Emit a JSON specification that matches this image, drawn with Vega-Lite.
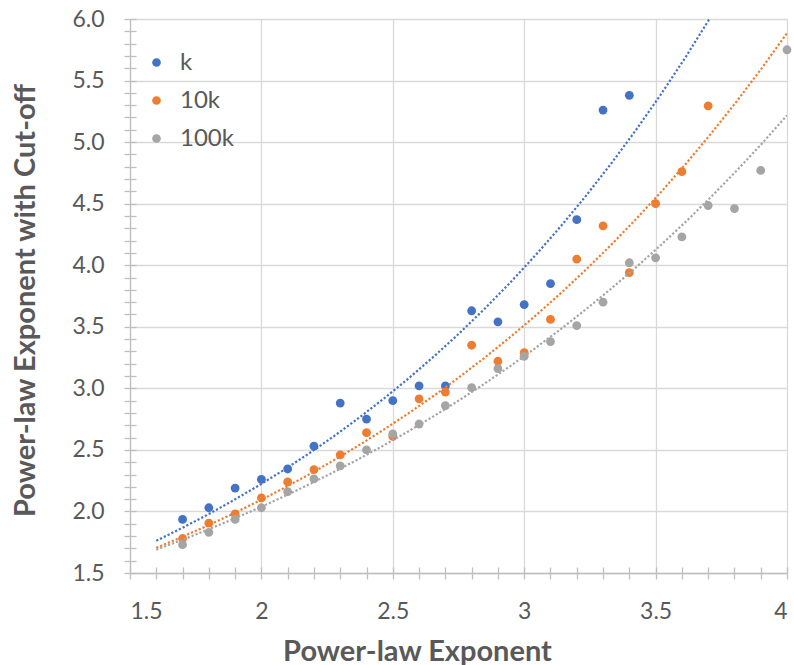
{
  "$schema": "https://vega.github.io/schema/vega-lite/v6.json",
  "width": 657,
  "height": 554,
  "autosize": {"type": "none"},
  "padding": {"left": 130, "top": 19, "right": 7, "bottom": 92},
  "background": "white",
  "config": {"view": {"stroke": null}, "font": "Lato"},
  "data": {
    "values": [
      {"series": "k", "x": 1.7, "y": 1.935},
      {"series": "k", "x": 1.8, "y": 2.03},
      {"series": "k", "x": 1.9, "y": 2.19},
      {"series": "k", "x": 2.0, "y": 2.26},
      {"series": "k", "x": 2.1, "y": 2.345},
      {"series": "k", "x": 2.2, "y": 2.53},
      {"series": "k", "x": 2.3, "y": 2.88},
      {"series": "k", "x": 2.4, "y": 2.75},
      {"series": "k", "x": 2.5, "y": 2.9},
      {"series": "k", "x": 2.6, "y": 3.02},
      {"series": "k", "x": 2.7, "y": 3.02},
      {"series": "k", "x": 2.8, "y": 3.63},
      {"series": "k", "x": 2.9, "y": 3.54},
      {"series": "k", "x": 3.0, "y": 3.68},
      {"series": "k", "x": 3.1, "y": 3.85},
      {"series": "k", "x": 3.2, "y": 4.37},
      {"series": "k", "x": 3.3, "y": 5.26},
      {"series": "k", "x": 3.4, "y": 5.38},
      {"series": "10k", "x": 1.7, "y": 1.78},
      {"series": "10k", "x": 1.8, "y": 1.905},
      {"series": "10k", "x": 1.9, "y": 1.98},
      {"series": "10k", "x": 2.0, "y": 2.11},
      {"series": "10k", "x": 2.1, "y": 2.24},
      {"series": "10k", "x": 2.2, "y": 2.34},
      {"series": "10k", "x": 2.3, "y": 2.46},
      {"series": "10k", "x": 2.4, "y": 2.64},
      {"series": "10k", "x": 2.5, "y": 2.61},
      {"series": "10k", "x": 2.6, "y": 2.915},
      {"series": "10k", "x": 2.7, "y": 2.97},
      {"series": "10k", "x": 2.8, "y": 3.35},
      {"series": "10k", "x": 2.9, "y": 3.22},
      {"series": "10k", "x": 3.0, "y": 3.29},
      {"series": "10k", "x": 3.1, "y": 3.56},
      {"series": "10k", "x": 3.2, "y": 4.05},
      {"series": "10k", "x": 3.3, "y": 4.32},
      {"series": "10k", "x": 3.4, "y": 3.94},
      {"series": "10k", "x": 3.5, "y": 4.5},
      {"series": "10k", "x": 3.6, "y": 4.76},
      {"series": "10k", "x": 3.7, "y": 5.295},
      {"series": "100k", "x": 1.7, "y": 1.73},
      {"series": "100k", "x": 1.8, "y": 1.83},
      {"series": "100k", "x": 1.9, "y": 1.935},
      {"series": "100k", "x": 2.0, "y": 2.03},
      {"series": "100k", "x": 2.1, "y": 2.16},
      {"series": "100k", "x": 2.2, "y": 2.265},
      {"series": "100k", "x": 2.3, "y": 2.37},
      {"series": "100k", "x": 2.4, "y": 2.5},
      {"series": "100k", "x": 2.5, "y": 2.63},
      {"series": "100k", "x": 2.6, "y": 2.71},
      {"series": "100k", "x": 2.7, "y": 2.86},
      {"series": "100k", "x": 2.8, "y": 3.005},
      {"series": "100k", "x": 2.9, "y": 3.16},
      {"series": "100k", "x": 3.0, "y": 3.26},
      {"series": "100k", "x": 3.1, "y": 3.38},
      {"series": "100k", "x": 3.2, "y": 3.51},
      {"series": "100k", "x": 3.3, "y": 3.7},
      {"series": "100k", "x": 3.4, "y": 4.02},
      {"series": "100k", "x": 3.5, "y": 4.06},
      {"series": "100k", "x": 3.6, "y": 4.23},
      {"series": "100k", "x": 3.7, "y": 4.485},
      {"series": "100k", "x": 3.8, "y": 4.46},
      {"series": "100k", "x": 3.9, "y": 4.77},
      {"series": "100k", "x": 4.0, "y": 5.75}
    ]
  },
  "layer": [
    {
      "mark": {"type": "circle", "size": 78, "opacity": 1},
      "encoding": {
        "x": {
          "field": "x", "type": "quantitative",
          "scale": {"domain": [1.5, 4], "nice": false, "zero": false},
          "axis": {
            "orient": "bottom",
            "values": [1.5, 2, 2.5, 3, 3.5, 4],
            "format": "~g",
            "grid": true, "gridColor": "#d9d9d9", "gridWidth": 1.3,
            "domain": true, "domainColor": "#bfbfbf", "domainWidth": 1.3,
            "ticks": false,
            "labelFontSize": 23, "labelColor": "#595959", "labelPadding": 27, "labelFont": "Lato",
            "title": "Power-law Exponent",
            "titleFont": "Lato", "titleFontSize": 29, "titleFontWeight": "bold", "titleColor": "#595959",
            "titleX": 287, "titleY": 87, "titleBaseline": "alphabetic", "titleAlign": "center"
          }
        },
        "y": {
          "field": "y", "type": "quantitative",
          "scale": {"domain": [1.5, 6], "nice": false, "zero": false},
          "axis": {
            "orient": "left",
            "values": [1.5, 2, 2.5, 3, 3.5, 4, 4.5, 5, 5.5, 6],
            "format": ".1f",
            "grid": true, "gridColor": "#d9d9d9", "gridWidth": 1.3,
            "domain": true, "domainColor": "#bfbfbf", "domainWidth": 1.3,
            "ticks": false,
            "labelFontSize": 23, "labelColor": "#595959", "labelPadding": 26, "labelFont": "Lato",
            "title": "Power-law Exponent with Cut-off",
            "titleFont": "Lato", "titleFontSize": 29, "titleFontWeight": "bold", "titleColor": "#595959",
            "titleX": -96, "titleY": 281, "titleAngle": -90, "titleBaseline": "alphabetic", "titleAlign": "center"
          }
        },
        "color": {
          "field": "series", "type": "nominal",
          "scale": {"domain": ["k", "10k", "100k"], "range": ["#4472C4", "#ED7D31", "#A5A5A5"]},
          "legend": {
            "title": null, "orient": "none", "legendX": 14.5, "legendY": 31.5, "padding": 0,
            "symbolType": "circle", "symbolSize": 75, "symbolStrokeWidth": 0,
            "labelFontSize": 24, "labelColor": "#595959", "labelFont": "Lato",
            "labelOffset": 11.5, "rowPadding": 14
          }
        }
      }
    },
    {
      "transform": [
        {"regression": "y", "on": "x", "groupby": ["series"], "method": "exp", "extent": [1.6, 4.0]}
      ],
      "mark": {"type": "line", "clip": true, "strokeWidth": 2.2, "strokeDash": [2.2, 2]},
      "encoding": {
        "x": {
          "field": "x", "type": "quantitative",
          "scale": {"domain": [1.5, 4], "nice": false, "zero": false},
          "axis": {
            "orient": "bottom",
            "values": [1.5, 1.6, 1.7, 1.8, 1.9, 2.0, 2.1, 2.2, 2.3, 2.4, 2.5, 2.6, 2.7, 2.8, 2.9, 3.0, 3.1, 3.2, 3.3, 3.4, 3.5, 3.6, 3.7, 3.8, 3.9, 4.0],
            "grid": false, "domain": false, "labels": false,
            "ticks": true, "tickColor": "#bfbfbf", "tickWidth": 1.3, "tickSize": 12, "offset": -6,
            "title": null
          }
        },
        "y": {
          "field": "y", "type": "quantitative",
          "scale": {"domain": [1.5, 6], "nice": false, "zero": false},
          "axis": {
            "orient": "left",
            "values": [1.5, 1.6, 1.7, 1.8, 1.9, 2.0, 2.1, 2.2, 2.3, 2.4, 2.5, 2.6, 2.7, 2.8, 2.9, 3.0, 3.1, 3.2, 3.3, 3.4, 3.5, 3.6, 3.7, 3.8, 3.9, 4.0, 4.1, 4.2, 4.3, 4.4, 4.5, 4.6, 4.7, 4.8, 4.9, 5.0, 5.1, 5.2, 5.3, 5.4, 5.5, 5.6, 5.7, 5.8, 5.9, 6.0],
            "grid": false, "domain": false, "labels": false,
            "ticks": true, "tickColor": "#bfbfbf", "tickWidth": 1.3, "tickSize": 12, "offset": -6,
            "title": null
          }
        },
        "stroke": {
          "field": "series", "type": "nominal",
          "scale": {"domain": ["k", "10k", "100k"], "range": ["#4472C4", "#ED7D31", "#A5A5A5"]},
          "legend": null
        }
      }
    }
  ],
  "resolve": {"axis": {"x": "independent", "y": "independent"}}
}
